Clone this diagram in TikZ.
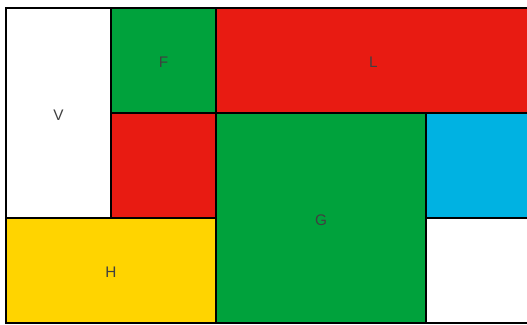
\documentclass[tikz,border=0pt]{standalone}
\usepackage{fontspec}
\setmainfont{Liberation Sans}
\usepackage{xcolor}
\usetikzlibrary{positioning}

\definecolor{tileRed}{HTML}{E81B12}
\definecolor{tileGreen}{HTML}{00A23C}
\definecolor{tileBlue}{HTML}{00B2E2}
\definecolor{tileYellow}{HTML}{FFD400}
\definecolor{labelGray}{HTML}{404040}

\tikzset{
  tile/.style={draw=black,line width=2.1pt,text=labelGray,font=\fontsize{11.5}{13}\selectfont,
    text height=11pt,text depth=0pt},
  unit/.style={tile,minimum width=78.75pt,minimum height=78.75pt},
  wide/.style={tile,minimum width=157.5pt,minimum height=78.75pt},
  tall/.style={tile,minimum width=78.75pt,minimum height=157.5pt},
  big/.style={tile,minimum width=157.5pt,minimum height=157.5pt}
}

\begin{document}
\begin{tikzpicture}[x=78.75pt,y=-78.75pt]
\useasboundingbox (-0.057,-0.076) rectangle (4.962,3.019);

% top-left column
\node[tall,fill=white] (V) at (0.5,1) {V};
\node[unit,fill=tileGreen] (F) at (1.5,0.5) {F};
\node[unit,fill=tileRed] (R) at (1.5,1.5) {};

% long strip on top
\node[tile,fill=tileRed,minimum width=236.25pt,minimum height=78.75pt] (L) at (3.5,0.5) {L};

% middle block
\node[big,fill=tileGreen] (G) at (3,2) {G};
\node[unit,fill=tileBlue] (C) at (4.5,1.5) {};
\node[unit,fill=white] (W) at (4.5,2.5) {};

% bottom strip
\node[wide,fill=tileYellow] (H) at (1,2.5) {H};
\end{tikzpicture}
\end{document}
